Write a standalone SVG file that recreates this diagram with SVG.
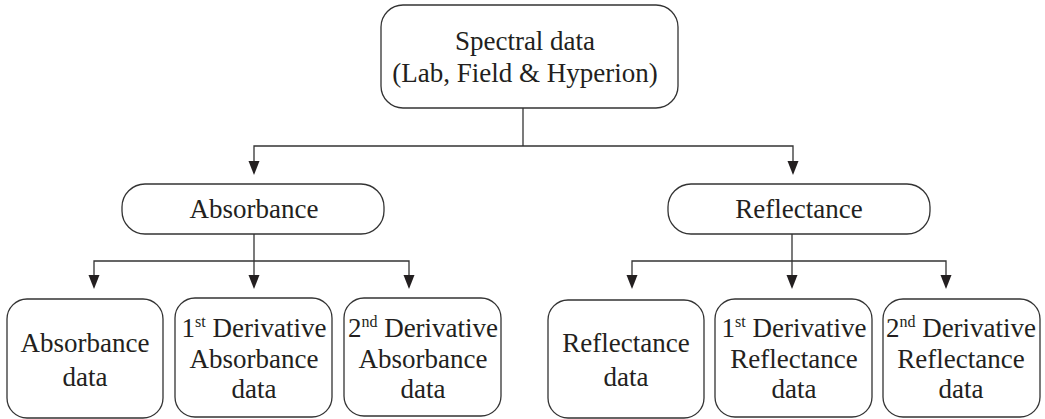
<svg xmlns="http://www.w3.org/2000/svg" width="1045" height="419" viewBox="0 0 1045 419">
<style>
.box{fill:#fff;stroke:#333;stroke-width:1.3}
.t{font-family:"Liberation Serif",serif;font-size:27px;fill:#231f20;text-anchor:middle}
.sup{font-size:16px}
.c{fill:none;stroke:#333;stroke-width:1.3}
.ah{fill:#231f20}
</style>
<g id="connectors">
<path class="c" d="M523,108 V146"/>
<path class="c" d="M523,146 H254 V165"/>
<path class="c" d="M523,146 H793 V165"/>
<path class="c" d="M254,234 V261"/>
<path class="c" d="M254,261 H94 V279"/>
<path class="c" d="M254,261 V279"/>
<path class="c" d="M254,261 H409 V279"/>
<path class="c" d="M792,234 V261"/>
<path class="c" d="M792,261 H632 V279"/>
<path class="c" d="M792,261 V279"/>
<path class="c" d="M792,261 H946 V279"/>
<polygon class="ah" points="248.5,161 259.5,161 254,175"/>
<polygon class="ah" points="787.5,161 798.5,161 793,175"/>
<polygon class="ah" points="88.5,275 99.5,275 94,289"/>
<polygon class="ah" points="248.5,275 259.5,275 254,289"/>
<polygon class="ah" points="403.5,275 414.5,275 409,289"/>
<polygon class="ah" points="626.5,275 637.5,275 632,289"/>
<polygon class="ah" points="786.5,275 797.5,275 792,289"/>
<polygon class="ah" points="940.5,275 951.5,275 946,289"/>
</g>
<g id="spectral">
<rect class="box" x="381" y="5" width="297" height="103" rx="22"/>
<text class="t" x="525" y="50">Spectral data</text>
<text class="t" x="525" y="82">(Lab, Field &amp; Hyperion)</text>
</g>
<g id="absorbance">
<rect class="box" x="122" y="184" width="262" height="50" rx="23"/>
<text class="t" x="254" y="218">Absorbance</text>
</g>
<g id="reflectance">
<rect class="box" x="668" y="184" width="262" height="50" rx="23"/>
<text class="t" x="799" y="218">Reflectance</text>
</g>
<g id="abs-data">
<rect class="box" x="7" y="299" width="156" height="119" rx="20"/>
<text class="t" x="85" y="352">Absorbance</text>
<text class="t" x="85" y="386">data</text>
</g>
<g id="abs-d1">
<rect class="box" x="175" y="298" width="157" height="119" rx="20"/>
<text class="t" x="254" y="337">1<tspan class="sup" dy="-10">st</tspan><tspan dy="10"> Derivative</tspan></text>
<text class="t" x="254" y="368">Absorbance</text>
<text class="t" x="254" y="398">data</text>
</g>
<g id="abs-d2">
<rect class="box" x="344" y="298" width="157" height="118" rx="20"/>
<text class="t" x="423" y="337">2<tspan class="sup" dy="-10">nd</tspan><tspan dy="10"> Derivative</tspan></text>
<text class="t" x="423" y="368">Absorbance</text>
<text class="t" x="423" y="398">data</text>
</g>
<g id="ref-data">
<rect class="box" x="548" y="300" width="156" height="118" rx="20"/>
<text class="t" x="626" y="352">Reflectance</text>
<text class="t" x="626" y="386">data</text>
</g>
<g id="ref-d1">
<rect class="box" x="715" y="299" width="157" height="118" rx="20"/>
<text class="t" x="794" y="337">1<tspan class="sup" dy="-10">st</tspan><tspan dy="10"> Derivative</tspan></text>
<text class="t" x="794" y="368">Reflectance</text>
<text class="t" x="794" y="398">data</text>
</g>
<g id="ref-d2">
<rect class="box" x="883" y="299" width="157" height="118" rx="20"/>
<text class="t" x="961" y="337">2<tspan class="sup" dy="-10">nd</tspan><tspan dy="10"> Derivative</tspan></text>
<text class="t" x="961" y="368">Reflectance</text>
<text class="t" x="961" y="398">data</text>
</g>
</svg>
